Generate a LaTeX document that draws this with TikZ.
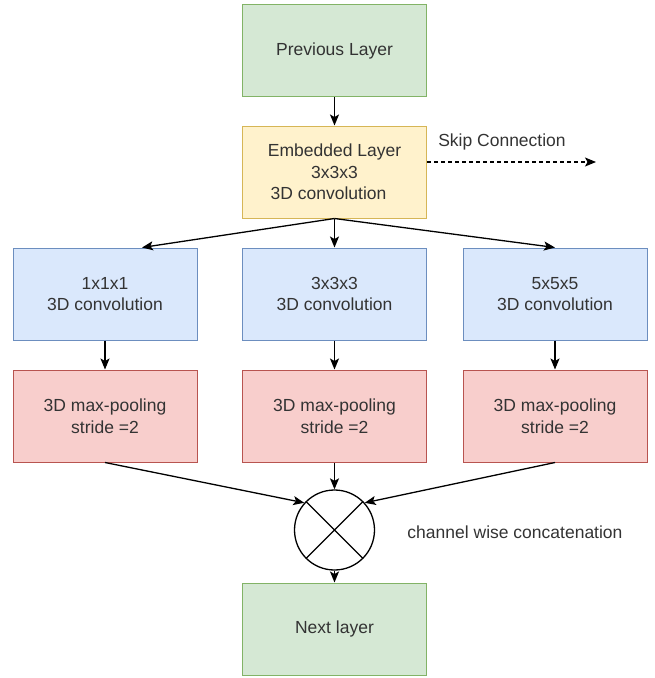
\documentclass[tikz,border=0pt]{standalone}
\usepackage{fontspec}
\setmainfont{Liberation Sans}
\usetikzlibrary{arrows.meta,calc}
\definecolor{gfill}{HTML}{D5E8D4}\definecolor{gline}{HTML}{82B366}
\definecolor{yfill}{HTML}{FFF2CC}\definecolor{yline}{HTML}{D6B656}
\definecolor{bfill}{HTML}{DAE8FC}\definecolor{bline}{HTML}{6C8EBF}
\definecolor{rfill}{HTML}{F8CECC}\definecolor{rline}{HTML}{B85450}
\definecolor{txt}{HTML}{333333}
\tikzset{
  box/.style={rectangle, minimum width=184pt, minimum height=92pt, line width=1pt, align=center,
    font=\fontsize{17.5}{21.5}\selectfont, text=txt, inner sep=0pt},
  gbox/.style={box, fill=gfill, draw=gline},
  ybox/.style={box, fill=yfill, draw=yline},
  bbox/.style={box, fill=bfill, draw=bline},
  rbox/.style={box, fill=rfill, draw=rline},
  lbl/.style={font=\fontsize{17.5}{21.5}\selectfont, text=txt, inner sep=0pt},
  conn/.style={line width=1.3pt, -{Stealth[length=11pt,width=9pt,inset=2.5pt]}},
}
\begin{document}
\begin{tikzpicture}[x=1pt,y=-1pt]
\useasboundingbox (0,0) rectangle (654,678);
\node[gbox] (prev) at (334.5,50.5) {Previous Layer};
\node[ybox] (emb) at (334.5,172) {Embedded Layer\\3x3x3\\3D convolution\hspace*{12pt}};
\node[bbox] (b1) at (105,294) {1x1x1\\3D convolution};
\node[bbox] (b2) at (334.5,294) {3x3x3\\3D convolution};
\node[bbox] (b3) at (555,294) {5x5x5\\3D convolution};
\node[rbox] (r1) at (105,416) {3D max-pooling\\stride =2};
\node[rbox] (r2) at (334.5,416) {3D max-pooling\\stride =2};
\node[rbox] (r3) at (555,416) {3D max-pooling\\stride =2};
\node[circle, draw=black, line width=1.3pt, fill=white, minimum size=80pt, inner sep=0pt] (circ) at (334.5,530) {};
\draw[line width=1.3pt] (circ.45) -- (circ.225) (circ.135) -- (circ.315);
\node[gbox] (next) at (334.5,629) {Next layer};
\node[lbl] (skiplbl) at (502,142) {Skip Connection};
\node[lbl] (catlbl) at (515,532) {channel wise concatenation};
\coordinate (skipend) at (596,162);
\draw[conn, dash pattern=on 4pt off 3pt] ([yshift=10pt]emb.east) -- (skipend);
\draw[conn] (prev.south) -- (emb.north);
\draw[conn] (emb.south) -- ([xshift=37pt]b1.north);
\draw[conn] (emb.south) -- (b2.north);
\draw[conn] (emb.south) -- (b3.north);
\draw[conn] (b1.south) -- (r1.north);
\draw[conn] (b2.south) -- (r2.north);
\draw[conn] (b3.south) -- (r3.north);
\draw[conn] (r1.south) -- (circ.138);
\draw[conn] (r2.south) -- (circ.north);
\draw[conn] (r3.south) -- (circ.42);
\draw[conn] (circ.south) -- (next.north);
\end{tikzpicture}
\end{document}
